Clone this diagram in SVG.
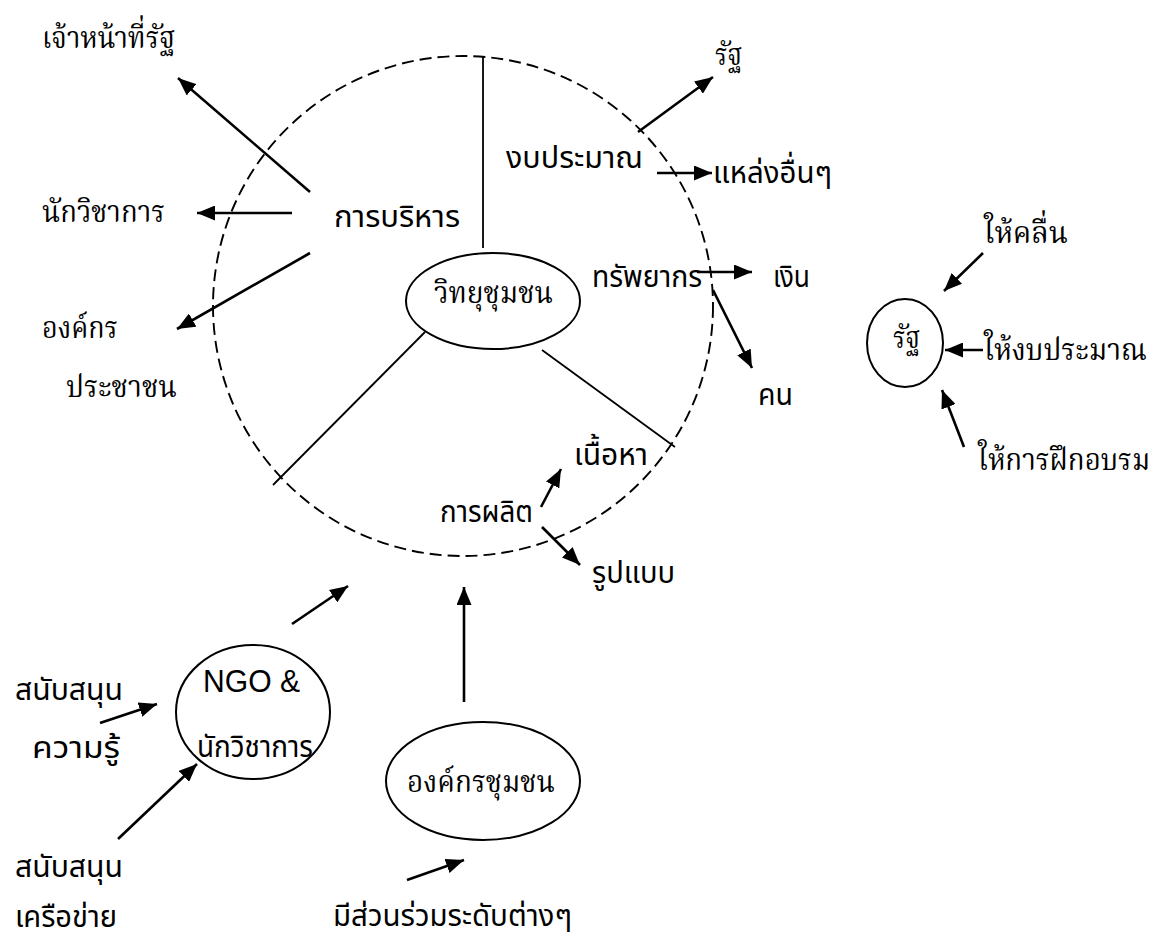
<svg xmlns="http://www.w3.org/2000/svg" width="1168" height="945" viewBox="0 0 1168 945">
<style>
.bg{fill:#fff}
.serif{font-family:"Liberation Serif","Noto Serif Thai",serif;font-size:31px;fill:#000}
.sans{font-family:"Liberation Sans","Noto Sans Thai","Noto Sans",sans-serif;font-size:31px;fill:#000}
.node{fill:none;stroke:#000;stroke-width:2}
.dash{fill:none;stroke:#000;stroke-width:1.9;stroke-dasharray:12 6}
.spoke{stroke:#000;stroke-width:1.8;fill:none}
.arr{stroke:#000;stroke-width:2.6;fill:none;marker-end:url(#ah)}
</style>
<defs>
<marker id="ah" markerUnits="userSpaceOnUse" markerWidth="19" markerHeight="15" refX="18" refY="7.5" orient="auto">
<path d="M0,0 L18,7.5 L0,15 z" fill="#000"/>
</marker>
</defs>
<rect class="bg" x="0" y="0" width="1168" height="945"/>

<g id="boundary">
<circle class="dash" cx="463" cy="306" r="250"/>
</g>

<g id="connectors">
<line class="spoke" x1="483" y1="57" x2="483" y2="248"/>
<line class="spoke" x1="425" y1="332" x2="273" y2="485"/>
<line class="spoke" x1="542" y1="350" x2="675" y2="447"/>
<line class="arr" x1="310" y1="192" x2="178" y2="78"/>
<line class="arr" x1="292" y1="213" x2="197" y2="213"/>
<line class="arr" x1="310" y1="253" x2="177" y2="329"/>
<line class="arr" x1="638" y1="132" x2="713" y2="77"/>
<line class="arr" x1="657" y1="173" x2="712" y2="173"/>
<line class="arr" x1="697" y1="272" x2="752" y2="272"/>
<line class="arr" x1="713" y1="290" x2="752" y2="368"/>
<line class="arr" x1="541" y1="507" x2="561" y2="469"/>
<line class="arr" x1="542" y1="527" x2="580" y2="565"/>
<line class="arr" x1="983" y1="253" x2="944" y2="291"/>
<line class="arr" x1="983" y1="350" x2="945" y2="350"/>
<line class="arr" x1="964" y1="447" x2="942" y2="390"/>
<line class="arr" x1="292" y1="624" x2="348" y2="586"/>
<line class="arr" x1="100" y1="723" x2="157" y2="704"/>
<line class="arr" x1="118" y1="839" x2="197" y2="764"/>
<line class="arr" x1="464" y1="702" x2="464" y2="587"/>
<line class="arr" x1="407" y1="880" x2="464" y2="860"/>
</g>

<g id="radio">
<ellipse class="node" cx="493" cy="301" rx="87" ry="48"/>
<text class="serif" x="434" y="303" textLength="119" lengthAdjust="spacingAndGlyphs">วิทยุชุมชน</text>
</g>

<g id="state">
<ellipse class="node" cx="905" cy="343" rx="38" ry="44"/>
<text class="serif" x="893" y="348" font-size="25" textLength="27" lengthAdjust="spacingAndGlyphs">รัฐ</text>
</g>

<g id="ngo">
<ellipse class="node" cx="253" cy="712" rx="77" ry="67"/>
<text class="sans" x="203" y="692" font-family="Liberation Sans" font-size="28" textLength="97" lengthAdjust="spacingAndGlyphs">NGO &amp;</text>
<text class="sans" x="197" y="757" textLength="116" lengthAdjust="spacingAndGlyphs">นักวิชาการ</text>
</g>

<g id="community-org">
<ellipse class="node" cx="483" cy="781" rx="97" ry="59"/>
<text class="serif" x="407" y="792" textLength="148" lengthAdjust="spacingAndGlyphs">องค์กรชุมชน</text>
</g>

<g id="labels">
<text class="serif" x="42" y="48" textLength="133" lengthAdjust="spacingAndGlyphs">เจ้าหน้าที่รัฐ</text>
<text class="serif" x="42" y="222" textLength="123" lengthAdjust="spacingAndGlyphs">นักวิชาการ</text>
<text class="serif" x="42" y="338" textLength="76" lengthAdjust="spacingAndGlyphs">องค์กร</text>
<text class="serif" x="66" y="397" textLength="111" lengthAdjust="spacingAndGlyphs">ประชาชน</text>
<text class="serif" x="715" y="65" textLength="27" lengthAdjust="spacingAndGlyphs">รัฐ</text>
<text class="serif" x="984" y="243" textLength="84" lengthAdjust="spacingAndGlyphs">ให้คลื่น</text>
<text class="serif" x="984" y="360" textLength="163" lengthAdjust="spacingAndGlyphs">ให้งบประมาณ</text>
<text class="serif" x="978" y="470" font-size="26" textLength="172" lengthAdjust="spacingAndGlyphs">ให้การฝึกอบรม</text>

<text class="sans" x="334" y="227" textLength="126" lengthAdjust="spacingAndGlyphs">การบริหาร</text>
<text class="sans" x="506" y="168" textLength="137" lengthAdjust="spacingAndGlyphs">งบประมาณ</text>
<text class="sans" x="713" y="183" textLength="119" lengthAdjust="spacingAndGlyphs">แหล่งอื่นๆ</text>
<text class="sans" x="592" y="287" textLength="110" lengthAdjust="spacingAndGlyphs">ทรัพยากร</text>
<text class="sans" x="773" y="287" textLength="37" lengthAdjust="spacingAndGlyphs">เงิน</text>
<text class="sans" x="758" y="405" textLength="35" lengthAdjust="spacingAndGlyphs">คน</text>
<text class="sans" x="574" y="465" textLength="74" lengthAdjust="spacingAndGlyphs">เนื้อหา</text>
<text class="sans" x="440" y="522" textLength="93" lengthAdjust="spacingAndGlyphs">การผลิต</text>
<text class="sans" x="592" y="583" textLength="83" lengthAdjust="spacingAndGlyphs">รูปแบบ</text>
<text class="sans" x="15" y="700" textLength="108" lengthAdjust="spacingAndGlyphs">สนับสนุน</text>
<text class="sans" x="32" y="758" textLength="88" lengthAdjust="spacingAndGlyphs">ความรู้</text>
<text class="sans" x="15" y="877" textLength="108" lengthAdjust="spacingAndGlyphs">สนับสนุน</text>
<text class="sans" x="15" y="927" textLength="102" lengthAdjust="spacingAndGlyphs">เครือข่าย</text>
<text class="sans" x="333" y="926" textLength="239" lengthAdjust="spacingAndGlyphs">มีส่วนร่วมระดับต่างๆ</text>
</g>
</svg>
